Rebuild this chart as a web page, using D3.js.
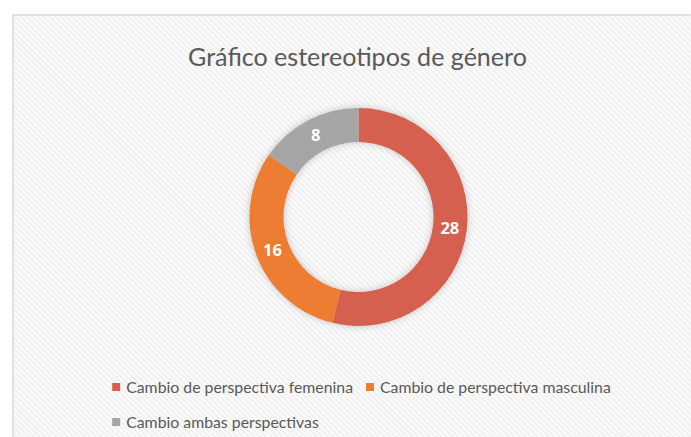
<!DOCTYPE html>
<html>
<head>
<meta charset="utf-8">
<script src="https://cdn.jsdelivr.net/npm/d3@7"></script>
<style>
  body { margin: 0; background: #fff; }
  svg { display: block; }
</style>
</head>
<body>
<div id="chart"></div>
<script>
// data
const categories = ["Cambio de perspectiva femenina", "Cambio de perspectiva masculina", "Cambio ambas perspectivas"];
const values = [28, 16, 8];
const colors = ["#D5604F", "#ED7D31", "#A5A5A5"];
const title = "Gráfico estereotipos de género";

const dimensions = {
    width: 691,
    height: 437,
    frame: { x: 13, y: 15 },
    cx: 358.5,
    cy: 217,
    outerRadius: 109,
    innerRadius: 75
};

const font = "Lato, 'Open Sans', sans-serif";
const labelFont = "'Open Sans', 'Noto Sans', sans-serif";

const svg = d3.select("#chart")
    .append("svg")
    .attr("width", dimensions.width)
    .attr("height", dimensions.height);

const defs = svg.append("defs");

// faint diagonal stripes like the Excel chart area fill
const pattern = defs.append("pattern")
    .attr("id", "stripes")
    .attr("patternUnits", "userSpaceOnUse")
    .attr("width", 4)
    .attr("height", 4)
    .attr("patternTransform", "rotate(45)");
pattern.append("rect").attr("width", 4).attr("height", 4).attr("fill", "#fbfbfb");
pattern.append("rect").attr("width", 4).attr("height", 1.6).attr("fill", "#eeeeee");

const shadow = defs.append("filter")
    .attr("id", "halo")
    .attr("x", "-20%").attr("y", "-20%")
    .attr("width", "140%").attr("height", "140%");
shadow.append("feDropShadow")
    .attr("dx", 0)
    .attr("dy", 0)
    .attr("stdDeviation", 3.5)
    .attr("flood-color", "#000")
    .attr("flood-opacity", 0.22);

svg.append("rect")
    .attr("x", dimensions.frame.x)
    .attr("y", dimensions.frame.y)
    .attr("width", dimensions.width)
    .attr("height", dimensions.height)
    .attr("fill", "url(#stripes)")
    .attr("stroke", "#d9d9d9")
    .attr("stroke-width", 1.5);

// title, sized to match the reference width
const titleText = svg.append("text")
    .attr("x", dimensions.cx - 1)
    .attr("y", 66)
    .attr("text-anchor", "middle")
    .attr("fill", "#595959")
    .style("font-family", font)
    .style("font-size", "22px")
    .text(title);
const tw = titleText.node().getComputedTextLength();
titleText.style("font-size", (22 * 339 / tw) + "px");

// donut
const pie = d3.pie().sort(null).value(d => d)(values);
const arc = d3.arc()
    .innerRadius(dimensions.innerRadius)
    .outerRadius(dimensions.outerRadius);
const labelArc = d3.arc()
    .innerRadius((dimensions.innerRadius + dimensions.outerRadius) / 2)
    .outerRadius((dimensions.innerRadius + dimensions.outerRadius) / 2);

const donut = svg.append("g")
    .attr("transform", `translate(${dimensions.cx},${dimensions.cy})`);

donut.append("g")
    .attr("filter", "url(#halo)")
    .selectAll("path")
    .data(pie)
    .enter()
    .append("path")
    .attr("d", arc)
    .attr("fill", (d, i) => colors[i]);

donut.selectAll(".label")
    .data(pie)
    .enter()
    .append("text")
    .attr("class", "label")
    .attr("transform", d => `translate(${labelArc.centroid(d)})`)
    .attr("text-anchor", "middle")
    .attr("dy", "0.36em")
    .attr("fill", "#fff")
    .style("font-family", labelFont)
    .style("font-size", "16.5px")
    .style("font-weight", "bold")
    .text(d => d.data);

// legend: wraps like Excel, first row centred, rows left aligned
const legendFont = 13;
const legend = svg.append("g");
const items = legend.selectAll(".legend")
    .data(categories)
    .enter()
    .append("g")
    .attr("class", "legend");

items.append("rect")
    .attr("width", 8)
    .attr("height", 8)
    .attr("y", -4)
    .attr("fill", (d, i) => colors[i]);

const labels = items.append("text")
    .attr("x", 14)
    .attr("dy", "0.35em")
    .attr("fill", "#595959")
    .style("font-family", font)
    .style("font-size", legendFont + "px")
    .text(d => d);

// scale font so the first label matches the reference width
const firstW = labels.node().getComputedTextLength();
const fs = legendFont * 227 / firstW;
labels.style("font-size", fs + "px");

const widths = labels.nodes().map(n => 14 + n.getComputedTextLength());
const gap = 13;
const maxRow = 560;
const rows = [[]];
let rowW = 0;
widths.forEach((w, i) => {
    const add = rows[rows.length - 1].length ? gap + w : w;
    if (rowW + add > maxRow && rows[rows.length - 1].length) {
        rows.push([i]);
        rowW = w;
    } else {
        rows[rows.length - 1].push(i);
        rowW += add;
    }
});
const firstRowW = rows[0].reduce((s, i, k) => s + widths[i] + (k ? gap : 0), 0);
const startX = dimensions.cx + 3 - firstRowW / 2;
const pos = [];
rows.forEach((row, r) => {
    let x = startX;
    row.forEach(i => {
        pos[i] = [x, 387 + r * 35];
        x += widths[i] + gap;
    });
});
items.attr("transform", (d, i) => `translate(${pos[i][0]},${pos[i][1]})`);
</script>
</body>
</html>
